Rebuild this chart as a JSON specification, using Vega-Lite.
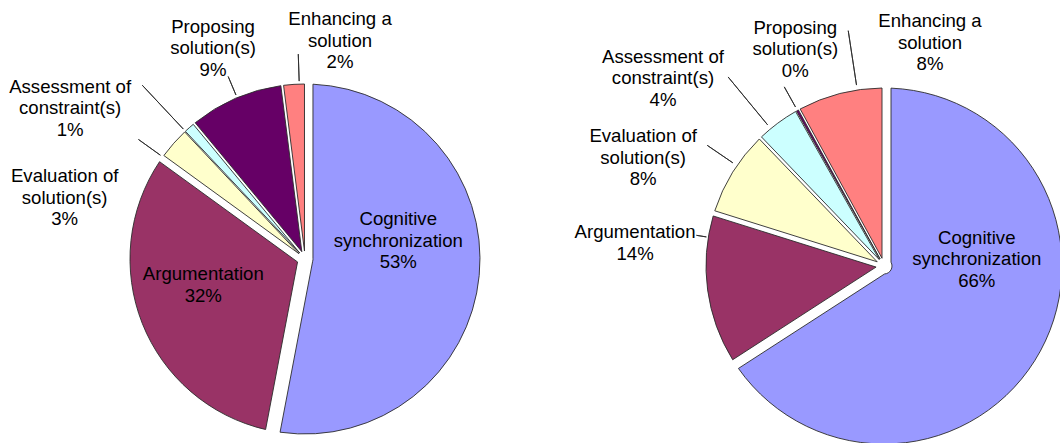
{
  "$schema": "https://vega.github.io/schema/vega-lite/v6.json",
  "padding": {"left": 0, "top": 10, "right": 0, "bottom": 0},
  "background": "white",
  "bounds": "flush",
  "config": {"view": {"stroke": null}, "concat": {"spacing": 99}, "text": {"font": "Liberation Sans"}},
  "resolve": {"scale": {"theta": "independent"}},
  "datasets": {
    "shares": [
      {"pie": "A", "ord": 1, "cat": "Cognitive synchronization", "pct": 53, "lbl": "Cognitive\nsynchronization\n53%"},
      {"pie": "A", "ord": 2, "cat": "Argumentation", "pct": 32, "lbl": "Argumentation\n32%"},
      {"pie": "A", "ord": 3, "cat": "Evaluation of solution(s)", "pct": 3, "lbl": "Evaluation of\nsolution(s)\n3%"},
      {"pie": "A", "ord": 4, "cat": "Assessment of constraint(s)", "pct": 1, "lbl": "Assessment of\nconstraint(s)\n1%"},
      {"pie": "A", "ord": 5, "cat": "Proposing solution(s)", "pct": 9, "lbl": "Proposing\nsolution(s)\n9%"},
      {"pie": "A", "ord": 6, "cat": "Enhancing a solution", "pct": 2, "lbl": "Enhancing a\nsolution\n2%"},
      {"pie": "B", "ord": 1, "cat": "Cognitive synchronization", "pct": 66, "lbl": "Cognitive\nsynchronization\n66%"},
      {"pie": "B", "ord": 2, "cat": "Argumentation", "pct": 14, "lbl": "Argumentation\n14%"},
      {"pie": "B", "ord": 3, "cat": "Evaluation of solution(s)", "pct": 8, "lbl": "Evaluation of\nsolution(s)\n8%"},
      {"pie": "B", "ord": 4, "cat": "Assessment of constraint(s)", "pct": 4, "lbl": "Assessment of\nconstraint(s)\n4%"},
      {"pie": "B", "ord": 5, "cat": "Proposing solution(s)", "pct": 0.2, "lbl": "Proposing\nsolution(s)\n0%"},
      {"pie": "B", "ord": 6, "cat": "Enhancing a solution", "pct": 8, "lbl": "Enhancing a\nsolution\n8%"}
    ]
  },
  "hconcat": [
    {
      "width": 610,
      "height": 342,
      "data": {"name": "shares"},
      "transform": [{"filter": "datum.pie == 'A'"}],
      "encoding": {
        "theta": {"field": "pct", "type": "quantitative", "stack": true},
        "order": {"field": "ord", "type": "quantitative"}
      },
      "layer": [
        {
          "mark": {"type": "arc", "outerRadius": 175, "innerRadius": 8, "padAngle": {"expr": "2*asin(8*sin(datum.pct*PI/100)/175.18)"}, "stroke": "#2b2b2b", "strokeWidth": 0.9},
          "encoding": {
            "color": {"field": "cat", "type": "nominal", "legend": null,
              "scale": {"domain": ["Cognitive synchronization", "Argumentation", "Evaluation of solution(s)", "Assessment of constraint(s)", "Proposing solution(s)", "Enhancing a solution"],
                        "range": ["#9999FF", "#993366", "#FFFFCC", "#CCFFFF", "#660066", "#FF8080"]}}
          }
        },
        {
          "mark": {"type": "arc", "padAngle": 3, "fill": "transparent", "stroke": "#2b2b2b", "strokeWidth": 0.9,
            "strokeOpacity": {"expr": "datum.ord > 2 ? 1 : 0"},
            "innerRadius": {"expr": "[10,10,178,178,178,178][datum.ord-1]"},
            "outerRadius": {"expr": "[11,11,205,238,198,205][datum.ord-1]"},
            "thetaOffset": {"expr": "[0,0,-0.1,-0.03,0.01,0.03][datum.ord-1]"},
            "theta2Offset": {"expr": "[0,0,-0.1,-0.03,0.01,0.03][datum.ord-1]"}},
          "encoding": {}
        },
        {
          "mark": {"type": "text", "fontSize": 18.6, "lineHeight": 21.5, "lineBreak": "\n", "align": "center", "baseline": "middle", "color": "#000000",
            "radius": {"expr": "[95,105,248,279,230,221][datum.ord-1]"},
            "dy": {"expr": "datum.ord == 2 ? -10.75 : -21.5"},
            "thetaOffset": {"expr": "[-0.286,0.127,-0.473,-0.278,-0.003,0.222][datum.ord-1]"}},
          "encoding": {"text": {"field": "lbl", "type": "nominal"}}
        }
      ]
    },
    {
      "width": 350,
      "height": 356,
      "data": {"name": "shares"},
      "transform": [{"filter": "datum.pie == 'B'"}],
      "encoding": {
        "theta": {"field": "pct", "type": "quantitative", "stack": true},
        "order": {"field": "ord", "type": "quantitative"}
      },
      "layer": [
        {
          "mark": {"type": "arc", "outerRadius": 178, "innerRadius": 8, "padAngle": {"expr": "2*asin(8*sin(datum.pct*PI/100)/178.18)"}, "stroke": "#2b2b2b", "strokeWidth": 0.9},
          "encoding": {
            "color": {"field": "cat", "type": "nominal", "legend": null,
              "scale": {"domain": ["Cognitive synchronization", "Argumentation", "Evaluation of solution(s)", "Assessment of constraint(s)", "Proposing solution(s)", "Enhancing a solution"],
                        "range": ["#9999FF", "#993366", "#FFFFCC", "#CCFFFF", "#660066", "#FF8080"]}}
          }
        },
        {
          "mark": {"type": "arc", "padAngle": 3, "fill": "transparent", "stroke": "#2b2b2b", "strokeWidth": 0.9,
            "strokeOpacity": {"expr": "datum.ord > 1 ? 1 : 0"},
            "innerRadius": {"expr": "[10,180,183,183,182,183][datum.ord-1]"},
            "outerRadius": {"expr": "[11,190,214,245,205,238][datum.ord-1]"},
            "thetaOffset": {"expr": "[0,0.297,0.044,-0.05,0,0.1][datum.ord-1]"},
            "theta2Offset": {"expr": "[0,0.297,0.044,-0.05,0,0.1][datum.ord-1]"}},
          "encoding": {}
        },
        {
          "mark": {"type": "text", "fontSize": 18.6, "lineHeight": 21.5, "lineBreak": "\n", "align": "center", "baseline": "middle", "color": "#000000",
            "radius": {"expr": "[93,250,264,290,234,228][datum.ord-1]"},
            "dy": {"expr": "datum.ord == 2 ? -10.75 : -21.5"},
            "thetaOffset": {"expr": "[-0.571,0.227,-0.133,-0.227,0.119,0.454][datum.ord-1]"}},
          "encoding": {"text": {"field": "lbl", "type": "nominal"}}
        }
      ]
    }
  ]
}
